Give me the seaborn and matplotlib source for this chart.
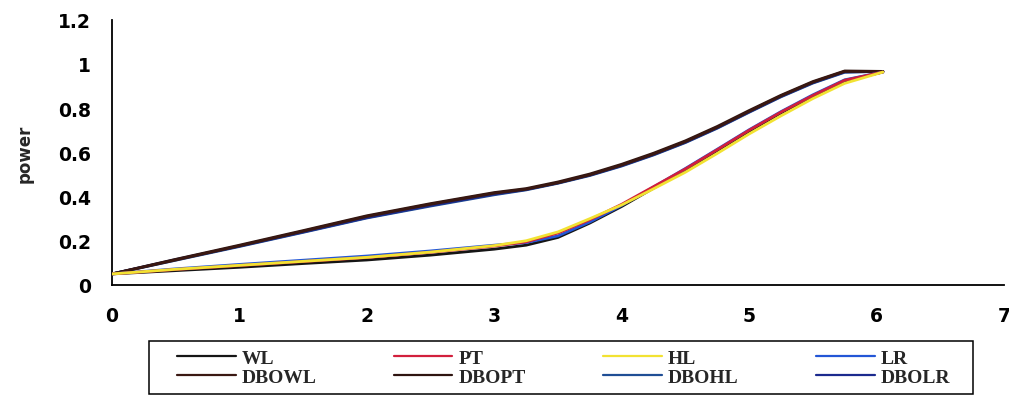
import pandas as pd
import seaborn as sns
import matplotlib.pyplot as plt
from matplotlib.lines import Line2D
from matplotlib.patches import Rectangle

# Datos
x_vals = [0, 0.5, 1, 1.5, 2, 2.5, 3, 3.25, 3.5, 3.75, 4, 4.25, 4.5, 4.75, 5, 5.25, 5.5, 5.75, 6.05]

wl = [0.05, 0.065, 0.080, 0.097, 0.113, 0.135, 0.162, 0.180, 0.215, 0.280, 0.355, 0.438, 0.520, 0.608, 0.695, 0.778, 0.852, 0.922, 0.963]
pt = [0.05, 0.070, 0.088, 0.106, 0.124, 0.148, 0.176, 0.195, 0.235, 0.295, 0.365, 0.445, 0.525, 0.612, 0.700, 0.782, 0.857, 0.926, 0.963]
hl = [0.05, 0.071, 0.089, 0.107, 0.125, 0.149, 0.178, 0.200, 0.240, 0.300, 0.362, 0.435, 0.510, 0.595, 0.683, 0.765, 0.843, 0.912, 0.963]
lr = [0.05, 0.073, 0.093, 0.112, 0.131, 0.154, 0.180, 0.192, 0.222, 0.285, 0.360, 0.443, 0.527, 0.614, 0.702, 0.784, 0.860, 0.928, 0.963]

dbowl = [0.05, 0.113, 0.177, 0.243, 0.310, 0.365, 0.415, 0.433, 0.462, 0.498, 0.542, 0.592, 0.648, 0.713, 0.785, 0.855, 0.917, 0.966, 0.966]
dbopt = [0.05, 0.116, 0.180, 0.246, 0.313, 0.368, 0.418, 0.436, 0.466, 0.502, 0.546, 0.596, 0.652, 0.717, 0.789, 0.858, 0.920, 0.968, 0.966]
dbohl = [0.05, 0.112, 0.174, 0.238, 0.303, 0.357, 0.408, 0.430, 0.460, 0.495, 0.538, 0.588, 0.644, 0.709, 0.781, 0.851, 0.913, 0.962, 0.966]
dbolr = [0.05, 0.115, 0.176, 0.240, 0.305, 0.360, 0.411, 0.432, 0.462, 0.497, 0.540, 0.590, 0.646, 0.711, 0.783, 0.853, 0.915, 0.964, 0.966]

series = {'WL': wl, 'PT': pt, 'HL': hl, 'LR': lr,
          'DBOWL': dbowl, 'DBOPT': dbopt, 'DBOHL': dbohl, 'DBOLR': dbolr}

colores = {'WL': '#151515', 'PT': '#d21f3c', 'HL': '#f2e232', 'LR': '#2356d6',
           'DBOWL': '#3a1812', 'DBOPT': '#2e1410', 'DBOHL': '#1f4e95', 'DBOLR': '#1b2a8e'}

# orden de dibujo (el ultimo queda arriba)
orden = ['DBOHL', 'DBOLR', 'DBOPT', 'DBOWL', 'WL', 'LR', 'PT', 'HL']

filas = []
for nombre, valores in series.items():
    for x, y in zip(x_vals, valores):
        filas.append({'x': x, 'power': y, 'serie': nombre})
df = pd.DataFrame(filas)

sns.set_theme(style="white")
plt.rcParams['font.family'] = ['DejaVu Sans']

fig = plt.figure(figsize=(10.09, 4.02), dpi=100)
ax = fig.add_axes([0.111, 0.2886, 0.884, 0.66])

for i, nombre in enumerate(orden):
    sns.lineplot(data=df[df['serie'] == nombre], x='x', y='power', color=colores[nombre],
                 linewidth=2.0, ax=ax, legend=False, zorder=2 + i)

ax.set_xlim(0, 7)
ax.set_ylim(0, 1.2)
ax.set_xticks(range(0, 8))
ax.set_yticks([0, 0.2, 0.4, 0.6, 0.8, 1.0, 1.2])
ax.set_yticklabels(['0', '0.2', '0.4', '0.6', '0.8', '1', '1.2'])
ax.set_xlabel('')
ax.set_ylabel('power', fontsize=12, fontweight='bold')
ax.yaxis.set_label_coords(-0.088, 0.5)

sns.despine(ax=ax)
for lado in ['left', 'bottom']:
    ax.spines[lado].set_color('black')
    ax.spines[lado].set_linewidth(1.3)
ax.tick_params(axis='both', direction='out', length=6, width=1.2, color='black',
               labelsize=13.5, labelcolor='black')
ax.tick_params(axis='x', pad=9)
ax.tick_params(axis='y', pad=9)
for t in ax.get_xticklabels() + ax.get_yticklabels():
    t.set_fontweight('bold')

# leyenda en dos filas, cuatro columnas
orden_leyenda = ['WL', 'DBOWL', 'PT', 'DBOPT', 'HL', 'DBOHL', 'LR', 'DBOLR']
handles = [Line2D([0], [0], color=colores[n], linewidth=1.6) for n in orden_leyenda]
fig.patches.append(Rectangle((0.1477, 0.0174), 0.8167, 0.1318, transform=fig.transFigure,
                             fill=False, edgecolor='black', linewidth=1.1))
fig.legend(handles, orden_leyenda, ncol=4, mode='expand', loc='center',
           bbox_to_anchor=(0.166, 0.0174, 0.785, 0.1318), frameon=False,
           borderpad=0, handlelength=3.0, handletextpad=0.3, labelspacing=0.1,
           prop={'family': 'Liberation Serif', 'weight': 'bold', 'size': 14})

fig.savefig('out.png', dpi=100, facecolor='white')
